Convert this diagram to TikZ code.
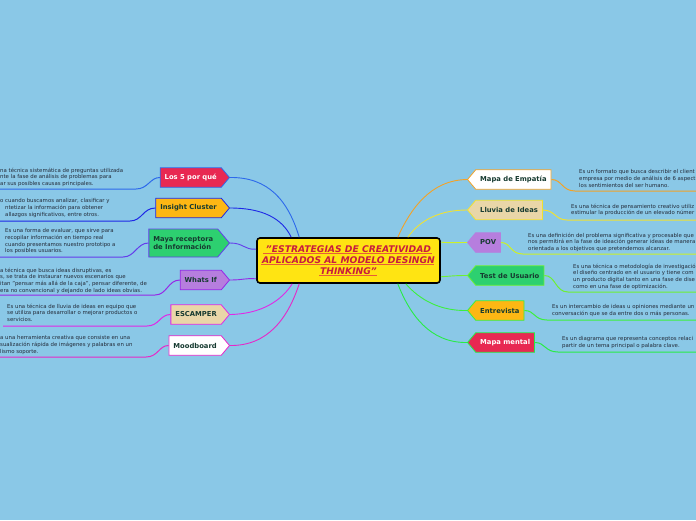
\documentclass[tikz,border=0pt]{standalone}
\usepackage{fontspec}
\setmainfont{DejaVu Sans}
\usetikzlibrary{shapes.symbols,calc}
\definecolor{bg}{RGB}{138,200,231}
\definecolor{labtext}{RGB}{22,58,48}
\definecolor{desctext}{RGB}{36,44,58}
\definecolor{crim}{RGB}{232,40,82}
\definecolor{orng}{RGB}{253,183,20}
\definecolor{grn}{RGB}{45,208,112}
\definecolor{lav}{RGB}{182,126,222}
\definecolor{beige}{RGB}{233,214,168}
\definecolor{ctrfill}{RGB}{255,228,18}
\definecolor{ctrtext}{RGB}{200,28,62}
\definecolor{ctrline}{RGB}{232,92,56}
\definecolor{cA}{RGB}{45,105,235}
\definecolor{cB}{RGB}{30,40,230}
\definecolor{cC}{RGB}{100,60,235}
\definecolor{cD}{RGB}{150,40,230}
\definecolor{cE}{RGB}{225,40,230}
\definecolor{cF}{RGB}{230,40,200}
\definecolor{cG}{RGB}{242,162,40}
\definecolor{cH}{RGB}{240,226,50}
\definecolor{cI}{RGB}{205,240,40}
\definecolor{cJ}{RGB}{110,240,50}
\definecolor{cK}{RGB}{60,240,60}
\definecolor{cL}{RGB}{40,236,70}
\begin{document}
\begin{tikzpicture}[x=1pt,y=-1pt,
 lab/.style={signal, signal pointer angle=100, minimum height=19.5pt, inner xsep=4.5pt, inner ysep=1pt,
   font=\fontsize{6.8}{8}\selectfont\bfseries, text=labtext, line width=0.8pt},
 labL/.style={lab, signal to=east, anchor=east},
 labR/.style={lab, signal to=west, anchor=west},
 desc/.style={align=left, font=\fontsize{5.4}{6.7}\selectfont, text=desctext, inner sep=0pt, anchor=north west},
 conn/.style={line width=0.9pt},
 uline/.style={line width=1pt},
]
\useasboundingbox[fill=bg] (0,0) rectangle (696,520);

% central node
\node[draw=black, line width=1.6pt, fill=ctrfill, rounded corners=3pt, minimum width=183pt, minimum height=45pt,
  align=center, text=ctrtext, font=\fontsize{9.2}{11}\selectfont\bfseries\itshape, inner sep=0pt]
  (ctr) at (348.5,260.5) {"ESTRATEGIAS DE CREATIVIDAD\\APLICADOS AL MODELO DESINGN\\THINKING"};
\draw[ctrline, line width=0.6pt] ($(ctr.north west)+(7,16.5)$) -- ($(ctr.north west)+(176,16.5)$);
\draw[ctrline, line width=0.6pt] ($(ctr.north west)+(5,27)$) -- ($(ctr.north west)+(178,27)$);
\draw[ctrline, line width=0.6pt] ($(ctr.north west)+(63,37.7)$) -- ($(ctr.north west)+(121,37.7)$);

% left nodes
\node[labL, fill=crim, draw=cA, text=white] (los) at (230,177.5) {Los 5 por qué};
\node[labL, fill=orng, draw=cB] (ins) at (230,208) {Insight Cluster};
\node[labL, fill=grn, draw=cC, align=left, minimum height=28pt] (maya) at (230,243) {Maya receptora\\de Información};
\node[labL, fill=lav, draw=cD] (whats) at (230,280) {Whats If};
\node[labL, fill=beige, draw=cE] (esc) at (230,314.5) {ESCAMPER};
\node[labL, fill=white, draw=cF] (mood) at (230,345.5) {Moodboard};

% right nodes
\node[labR, fill=white, draw=cG] (emp) at (467,179.5) {Mapa de Empatía};
\node[labR, fill=beige, draw=cH] (llu) at (467,210) {Lluvia de Ideas};
\node[labR, fill=lav, draw=lav] (pov) at (467,242.5) {POV};
\node[labR, fill=grn, draw=cJ] (test) at (467,275.5) {Test de Usuario};
\node[labR, fill=orng, draw=cK] (entr) at (467,310.5) {Entrevista};
\node[labR, fill=crim, draw=cL, text=white] (mm) at (467,342.5) {Mapa mental};

% connectors center-left
\draw[conn, cA] (los.east) .. controls (268,177) and (288,200) .. ($(ctr.north west)+(43,0)$);
\draw[conn, cB] (ins.east) .. controls (262,208) and (282,218) .. ($(ctr.north west)+(35,0)$);
\draw[conn, cC] (maya.east) .. controls (244,243) and (244,250) .. ($(ctr.north west)+(0,12)$);
\draw[conn, cD] (whats.east) .. controls (244,280) and (244,278) .. ($(ctr.south west)+(0,-5)$);
\draw[conn, cE] (esc.east) .. controls (262,314) and (282,300) .. ($(ctr.south west)+(36,0)$);
\draw[conn, cF] (mood.east) .. controls (268,346) and (288,318) .. ($(ctr.south west)+(43,0)$);

% connectors center-right
\draw[conn, cG] ($(ctr.north east)+(-43,0)$) .. controls (410,210) and (430,180) .. (emp.west);
\draw[conn, cH] ($(ctr.north east)+(-33,0)$) .. controls (420,220) and (440,210) .. (llu.west);
\draw[conn, cI] ($(ctr.north east)+(0,5)$) .. controls (452,243) and (455,242.5) .. (pov.west);
\draw[conn, cJ] ($(ctr.south east)+(0,-7)$) .. controls (452,276) and (455,275.5) .. (test.west);
\draw[conn, cK] ($(ctr.south east)+(-35,0)$) .. controls (420,300) and (440,311) .. (entr.west);
\draw[conn, cL] ($(ctr.south east)+(-43,0)$) .. controls (410,315) and (430,343) .. (mm.west);

% left descriptions
\node[desc] (d1) at (0,167.5) {na técnica sistemática de preguntas utilizada\\nte la fase de análisis de problemas para\\ar sus posibles causas principales.};
\coordinate (u1) at (136,189); \coordinate (u1e) at (0,189);
\draw[uline, cA] (los.west) .. controls (150,177.5) and (148,189) .. (u1) -- (u1e);

\node[desc] (d2) at (0,198.5) {o cuando buscamos analizar, clasificar y\\\hspace*{5pt}ntetizar la información para obtener\\\hspace*{5pt}allazgos significativos, entre otros.};
\coordinate (u2) at (130,221); \coordinate (u2e) at (0,221);
\draw[uline, cB] (ins.west) .. controls (143,208) and (142,221) .. (u2) -- (u2e);

\node[desc] (d3) at (5,228.5) {Es una forma de evaluar, que sirve para\\recopilar información en tiempo real\\cuando presentamos nuestro prototipo a\\los posibles usuarios.};
\coordinate (u3) at (123,257); \coordinate (u3e) at (0,257);
\draw[uline, cC] (maya.west) .. controls (137,243) and (135,257) .. (u3) -- (u3e);

\node[desc] (d4) at (0,267.5) {a técnica que busca ideas disruptivas, es\\s, se trata de instaurar nuevos escenarios que\\itan "pensar más allá de la caja", pensar diferente, de\\era no convencional y dejando de lado ideas obvias.};
\coordinate (u4) at (155,295); \coordinate (u4e) at (0,295);
\draw[uline, cD] (whats.west) .. controls (168,280) and (167,295) .. (u4) -- (u4e);

\node[desc] (d5) at (7,303.5) {Es una técnica de lluvia de ideas en equipo que\\se utiliza para desarrollar o mejorar productos o\\servicios.};
\coordinate (u5) at (147,326); \coordinate (u5e) at (3,326);
\draw[uline, cE] (esc.west) .. controls (160,314.5) and (159,326) .. (u5) -- (u5e);

\node[desc] (d6) at (0,335.5) {a una herramienta creativa que consiste en una\\sualización rápida de imágenes y palabras en un\\lismo soporte.};
\coordinate (u6) at (146,357); \coordinate (u6e) at (0,357);
\draw[uline, cF] (mood.west) .. controls (159,345.5) and (158,357) .. (u6) -- (u6e);

% right descriptions
\node[desc] (r1) at (579,169.5) {Es un formato que busca describir el client\\empresa por medio de análisis de 6 aspect\\los sentimientos del ser humano.};
\coordinate (v1) at (575,191); \coordinate (v1e) at (696,191);
\draw[uline, cG] (emp.east) .. controls (562,179.5) and (562,191) .. (v1) -- (v1e);

\node[desc] (r2) at (571,203.5) {Es una técnica de pensamiento creativo utiliz\\estimular la producción de un elevado númer};
\coordinate (v2) at (567,220); \coordinate (v2e) at (696,220);
\draw[uline, cH] (llu.east) .. controls (555,210) and (555,220) .. (v2) -- (v2e);

\node[desc] (r3) at (528,232.5) {Es una definición del problema significativa y procesable que\\nos permitirá en la fase de ideación generar ideas de manera\\orientada a los objetivos que pretendemos alcanzar.};
\coordinate (v3) at (523,254); \coordinate (v3e) at (696,254);
\draw[uline, cI] (pov.east) .. controls (511,242.5) and (510,254) .. (v3) -- (v3e);

\node[desc] (r4) at (573,263.5) {Es una técnica o metodología de investigació\\el diseño centrado en el usuario y tiene com\\un producto digital tanto en una fase de dise\\como en una fase de optimización.};
\coordinate (v4) at (568,292); \coordinate (v4e) at (696,292);
\draw[uline, cJ] (test.east) .. controls (556,275.5) and (555,292) .. (v4) -- (v4e);

\node[desc] (r5) at (552,304.5) {Es un intercambio de ideas u opiniones mediante un\\conversación que se da entre dos o más personas.};
\coordinate (v5) at (547,320); \coordinate (v5e) at (696,320);
\draw[uline, cK] (entr.east) .. controls (535,310.5) and (534,320) .. (v5) -- (v5e);

\node[desc] (r6) at (562,336.5) {Es un diagrama que representa conceptos relaci\\partir de un tema principal o palabra clave.};
\coordinate (v6) at (558,352); \coordinate (v6e) at (696,352);
\draw[uline, cL] (mm.east) .. controls (545,342.5) and (545,352) .. (v6) -- (v6e);
\end{tikzpicture}
\end{document}
